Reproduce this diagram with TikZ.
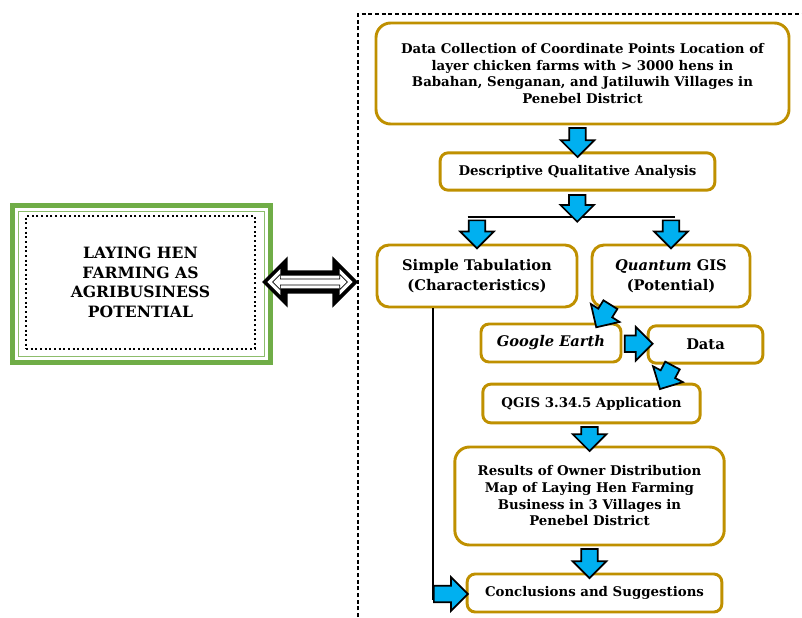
\documentclass[tikz,border=0pt]{standalone}
\usepackage{fontspec}
\setmainfont{DejaVu Serif}
\usetikzlibrary{shapes.arrows,calc}
\definecolor{gold}{HTML}{BF9000}
\definecolor{leafgreen}{HTML}{70AD47}
\definecolor{flowblue}{HTML}{00B0F0}
\tikzset{
  stage/.style={draw=gold, line width=2.2pt, rounded corners=6pt, align=center, inner sep=0pt,
    font=\bfseries\fontsize{10}{12.5}\selectfont},
  large/.style={font=\bfseries\fontsize{11}{15}\selectfont},
  flow/.style={single arrow, draw=black, fill=flowblue, line width=1.3pt, inner xsep=0pt, inner ysep=5.5pt,
    single arrow head extend=6.5pt, single arrow head indent=0pt, minimum height=#1},
  flow/.default=21pt,
  dbl/.style={double arrow, inner xsep=0pt, double arrow head indent=0pt},
}
\begin{document}
\begin{tikzpicture}[x=0.75pt,y=-0.75pt]
\useasboundingbox (0,0) rectangle (802,617);
% green frame on the left
\draw[leafgreen, line width=3.75pt] (12.5,205.5) rectangle (270.5,362.5);
\draw[leafgreen!80, line width=0.9pt] (18.5,211.5) rectangle (264.5,356.5);
\node[draw, dotted, line width=1.5pt, minimum width=171.75pt, minimum height=99.75pt, align=center,
  font=\bfseries\fontsize{11.7}{14.6}\selectfont] (potential) at (140.5,282.5) {LAYING HEN\\FARMING AS\\AGRIBUSINESS\\POTENTIAL};
\node[dbl, fill=black, minimum height=72pt, inner ysep=8.5pt, double arrow head extend=10.5pt] (link) at (310,282) {};
\node[dbl, fill=white, minimum height=64pt, inner ysep=4.5pt, double arrow head extend=5pt] (linkcore) at (link) {};
\node[dbl, fill=white, draw=black, line width=0.5pt, minimum height=56pt, inner ysep=2pt,
  double arrow head extend=3.5pt] (linkline) at (link) {};
\draw[dash pattern=on 3pt off 2pt, line width=0.8pt] (358,617) -- (358,14) -- (802,14);
% flow boxes
\node[stage, rounded corners=11pt, minimum width=309.75pt, minimum height=75.75pt] (collect) at (582.5,73.5)
  {Data Collection of Coordinate Points Location of\\layer chicken farms with > 3000 hens in\\Babahan, Senganan, and Jatiluwih Villages in\\Penebel District};
\node[stage, minimum width=206pt, minimum height=28pt] (descr) at (577.5,171.5) {Descriptive Qualitative Analysis};
\node[stage, large, rounded corners=9pt, minimum width=150pt, minimum height=46.5pt] (tabul) at (477,276) {Simple Tabulation\\(Characteristics)};
\node[stage, large, rounded corners=9pt, minimum width=118.5pt, minimum height=46.5pt] (qgis) at (671,276) {\textit{Quantum} GIS\\(Potential)};
\node[stage, large, minimum width=105pt, minimum height=28.5pt] (earth) at (551,343) {\textit{Google Earth}};
\node[stage, large, minimum width=86pt, minimum height=28pt] (dataset) at (705.5,344.5) {Data};
\node[stage, minimum width=163pt, minimum height=29pt] (app) at (591.5,403.5) {QGIS 3.34.5 Application};
\node[stage, rounded corners=11pt, minimum width=202pt, minimum height=73.5pt] (distmap) at (589.5,496)
  {Results of Owner Distribution\\Map of Laying Hen Farming\\Business in 3 Villages in\\Penebel District};
\node[stage, minimum width=191pt, minimum height=28.5pt] (concl) at (594.5,593) {Conclusions and Suggestions};
% connectors
\coordinate (split) at (577,217);
\coordinate (bend) at (433,600);
\draw[line width=1.5pt] ([xshift=-7pt]tabul.north |- split) -- ([xshift=3pt]qgis.north |- split);
\draw[line width=1.5pt] (tabul.south -| bend) -- (bend);
\node[flow=21.75pt, rotate=-90] (a1) at ($(descr.north |- collect.south)!0.5!(descr.north)$) {};
\node[flow=20pt, rotate=-90] (a2) at ($(descr.south)!0.5!(split)$) {};
\node[flow, rotate=-90] (a3) at ($(tabul.north |- split)!0.5!(tabul.north)$) {};
\node[flow, rotate=-90] (a4) at ($(qgis.north |- split)!0.5!(qgis.north)$) {};
\node[flow=20pt, rotate=-122] (a5) at ($(qgis.south west)!0.5!(earth.north east)+(-1,-3)$) {};
\node[flow] (a6) at ($(earth.east)!0.5!(dataset.west)$) {};
\node[flow=20pt, rotate=-118] (a7) at ($(dataset.south west)!0.5!(app.north east)+(-6,0)$) {};
\node[flow=18pt, rotate=-90] (a8) at ($(app.south -| distmap.north)!0.5!(distmap.north)$) {};
\node[flow=21.75pt, rotate=-90] (a9) at ($(distmap.south)!0.5!(concl.north -| distmap.south)$) {};
\node[flow=25.5pt, anchor=tail] (a10) at ($(bend)+(0,-6)$) {};
\end{tikzpicture}
\end{document}
